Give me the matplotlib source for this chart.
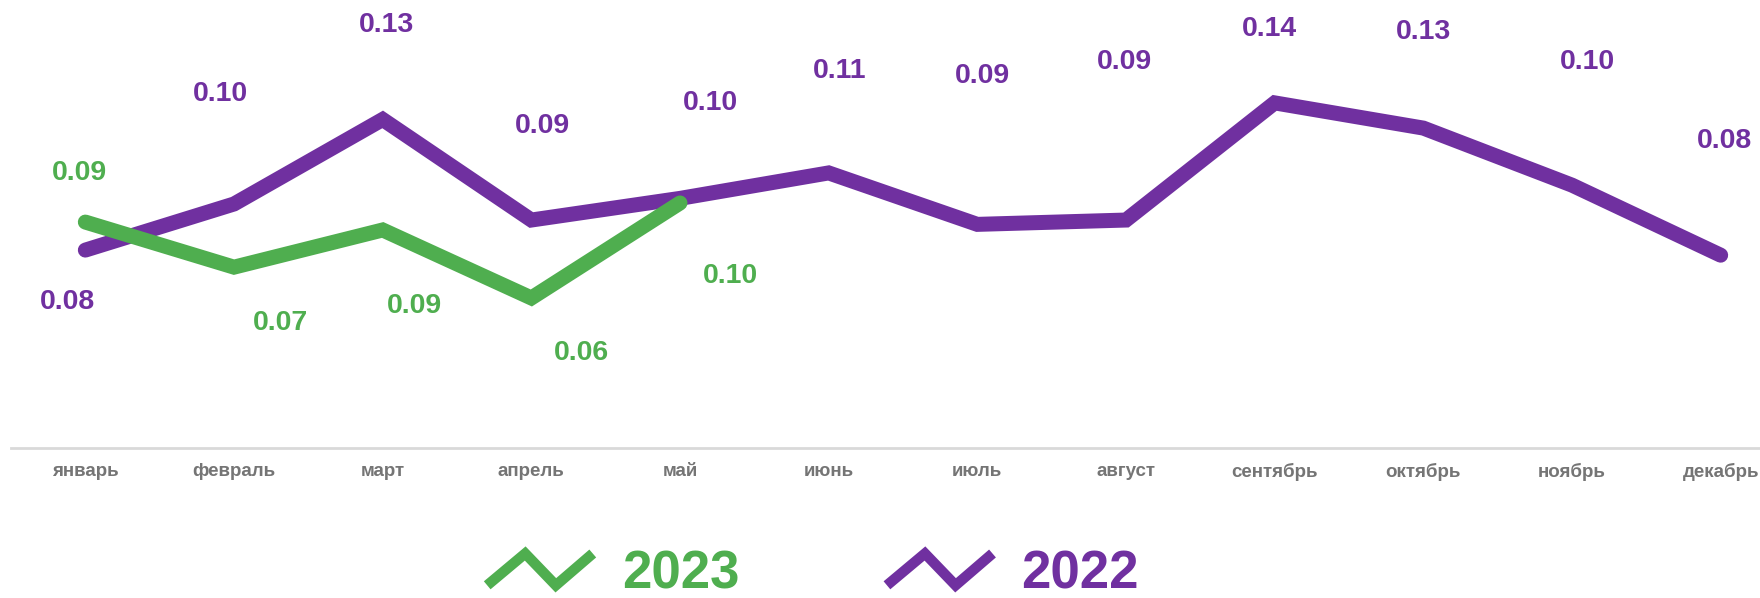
import numpy as np
import matplotlib
matplotlib.use("Agg")
import matplotlib.pyplot as plt
from matplotlib.lines import Line2D
from matplotlib.legend_handler import HandlerBase

plt.rcParams['font.family'] = ['Liberation Sans', 'DejaVu Sans']

months = ["январь", "февраль", "март", "апрель", "май", "июнь",
          "июль", "август", "сентябрь", "октябрь", "ноябрь", "декабрь"]
values_2022 = [0.0777, 0.0958, 0.129, 0.0895, 0.098, 0.108,
               0.0878, 0.0895, 0.1355, 0.1256, 0.1032, 0.0757]
values_2023 = [0.0887, 0.071, 0.0856, 0.0589, 0.0962]
series_names = ["2023", "2022"]

# label offsets (pixels) - styling only
off_2022 = [(-18, -52), (-14, 110), (4, 94), (11, 94), (30, 95), (11, 102),
            (5, 148), (-2, 158), (-5, 74), (0, 96), (15, 123), (4, 114)]
off_2023 = [(-6, 49), (46, -56), (32, -76), (50, -55), (50, -73)]

PURPLE = "#7030A0"
GREEN = "#4FAE4F"

W, H = 1760, 598
fig = plt.figure(figsize=(W / 100, H / 100), dpi=100)
left = 11 / W
right = 1795 / W
bottom = (H - 448) / H
top = (H - 15) / H
ax = fig.add_axes([left, bottom, right - left, top - bottom])

x = np.arange(len(months))
lw = 10.8
l22, = ax.plot(x, values_2022, color=PURPLE, lw=lw, solid_capstyle='round',
               solid_joinstyle='miter', zorder=2)
l23, = ax.plot(x[:len(values_2023)], values_2023, color=GREEN, lw=lw,
               solid_capstyle='round', solid_joinstyle='miter', zorder=3)

for xi, v, (dx, dy) in zip(x, values_2022, off_2022):
    ax.annotate(f"{v:.2f}", (xi, v), xytext=(dx, dy), textcoords='offset pixels',
                ha='center', va='center', color=PURPLE, fontsize=20.5,
                fontweight='bold', annotation_clip=False)
for xi, v, (dx, dy) in zip(x, values_2023, off_2023):
    ax.annotate(f"{v:.2f}", (xi, v), xytext=(dx, dy), textcoords='offset pixels',
                ha='center', va='center', color=GREEN, fontsize=20.5,
                fontweight='bold', annotation_clip=False)

ax.set_xlim(-0.5, 11.5)
ax.set_ylim(0, 0.17)
ax.set_xticks(x)
ax.set_xticklabels(months, fontsize=13.5, fontweight='bold', color='#757575')
ax.tick_params(axis='x', length=0, pad=11)
ax.set_yticks([])
for s in ['top', 'left', 'right']:
    ax.spines[s].set_visible(False)
ax.spines['bottom'].set_color('#d9d9d9')
ax.spines['bottom'].set_linewidth(2)
ax.patch.set_alpha(0)


class ZigzagHandler(HandlerBase):
    def create_artists(self, legend, orig_handle, xdescent, ydescent,
                       width, height, fontsize, trans):
        xs = np.array([0, 0.36, 0.65, 1.0]) * width - xdescent
        ys = np.array([0, 1, 0, 1]) * height - ydescent
        line = Line2D(xs, ys, color=orig_handle.get_color(), linewidth=7.5,
                      solid_capstyle='butt', solid_joinstyle='miter')
        line.set_transform(trans)
        return [line]


leg = fig.legend([l23, l22], series_names, loc='center',
                 bbox_to_anchor=(0.462, 0.04), ncol=2, frameon=False,
                 prop={'size': 38, 'weight': 'bold'},
                 handler_map={Line2D: ZigzagHandler()},
                 handlelength=2.0, handleheight=0.55,
                 handletextpad=0.55, columnspacing=2.8)
for t, c in zip(leg.get_texts(), [GREEN, PURPLE]):
    t.set_color(c)

fig.savefig("out.png", dpi=100)
